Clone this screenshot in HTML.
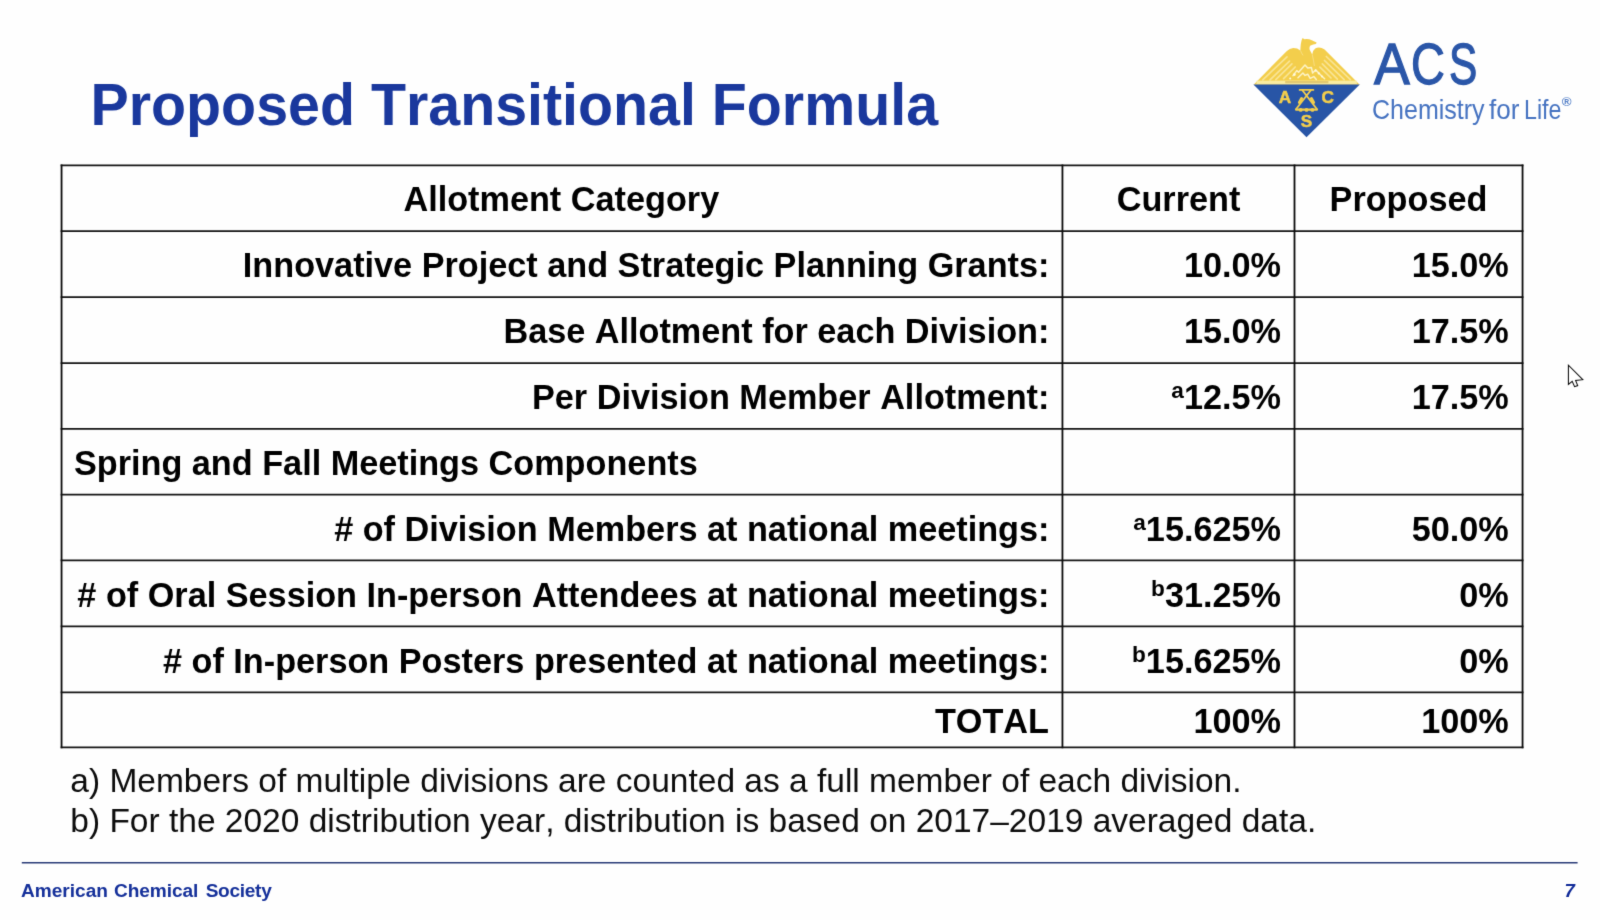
<!DOCTYPE html>
<html lang="en">
<head>
<meta charset="utf-8">
<title>Proposed Transitional Formula</title>
<style>
html,body{margin:0;padding:0;}
body{width:1600px;height:920px;overflow:hidden;background:#fefefe;color:#000;font-kerning:none;font-family:"Liberation Sans",sans-serif;position:relative;}
#slide{position:absolute;left:0;top:0;width:1600px;height:920px;overflow:hidden;background:#fefefe;filter:url(#soft);}
table,thead,tbody,tr,footer{display:block;margin:0;padding:0;border:0;}
td,th{display:block;padding:0;}
.t{position:absolute;margin:0;padding:0;white-space:nowrap;font-weight:bold;transform-origin:0 84.65%;}
.grid{position:absolute;left:0;top:0;}
sup{font-size:22.6px;position:relative;top:-11.3px;line-height:0;vertical-align:baseline;}
.logo{position:absolute;left:1240px;top:30px;}
.wm{position:absolute;left:0;top:0;white-space:nowrap;}
.wm span{position:absolute;transform-origin:0 0;display:block;}
.cursor{position:absolute;left:1560px;top:358px;}
</style>
</head>
<body>
<svg width="0" height="0" style="position:absolute" aria-hidden="true"><defs><filter id="soft" x="0" y="0" width="100%" height="100%" color-interpolation-filters="sRGB"><feConvolveMatrix order="3" kernelMatrix="0.0113 0.0838 0.0113 0.0838 0.6193 0.0838 0.0113 0.0838 0.0113" edgeMode="duplicate" preserveAlpha="false"/></filter></defs></svg>
<div id="slide">
<header>
<h1 class="t" style="left:90.50px;top:77.05px;font-size:57.35px;line-height:57.35px;color:#1a389d;transform:scaleY(1.02);">Proposed Transitional Formula</h1>
<svg class="logo" width="130" height="120" viewBox="1240 30 130 120">
<path fill="#f3ce4c" d="M1253.6 84.7 L1286.6 51.2 Q1289.6 48.3 1293.2 48.1 Q1297.6 48.1 1300.3 50.4 L1300.5 47.6 Q1300.7 43.4 1301.6 40.2 L1302.6 37.9 L1304.4 39.2 Q1308.4 38.6 1311.8 40.2 L1316.5 42.6 Q1317 44 1313.2 44.6 L1310.1 45.7 Q1309.2 47.4 1309.6 49.6 L1312.2 54.4 Q1312.6 50.6 1315.2 48.6 Q1319.4 46.2 1324.6 49.4 L1359.7 84.7 Z"/>
<g stroke="#f9e494" stroke-width="1.7" fill="none" stroke-linecap="round">
<path d="M1287 56.8 L1262.8 79.8"/><path d="M1289.5 61.1 L1270 79.8"/><path d="M1291.9 63.9 L1275.8 79.6"/><path d="M1295.2 67 L1283.6 78.6"/>
<path d="M1326.3 56.5 L1350.4 79.6"/><path d="M1324.5 60.5 L1344.2 79.6"/><path d="M1322.3 63.8 L1337.4 79.2"/><path d="M1319.9 67.2 L1331 78"/>
</g>
<path d="M1300.4 50.4 Q1301.4 53 1303 55.4 M1312.2 54.4 Q1313.6 60 1314.4 66" stroke="#f8df86" stroke-width="0.9" fill="none"/>
<g stroke="#fdf3c6" stroke-width="1.5" fill="none" stroke-linejoin="round" stroke-linecap="round">
<path d="M1293 75.6 L1296.8 70.6 L1298.6 72.2 L1305 65 L1307.7 68.1 L1311.4 67.5 L1312.6 73 L1315.6 69.9 L1318.7 73 L1321.7 76 L1324.6 78.8"/>
<path d="M1298 77.8 L1302.9 73 L1305 75.4 L1307.7 74.2 L1310.2 78.4 L1313.8 76.6 L1316.3 79.4"/>
</g>
<g fill="#fffae0"><circle cx="1294.4" cy="74.6" r="1.3"/><circle cx="1315.6" cy="70.6" r="1.1"/><circle cx="1318.8" cy="73.4" r="1.1"/><circle cx="1322" cy="76.4" r="1"/><circle cx="1290.2" cy="78.4" r="1"/></g>
<rect x="1256.5" y="80.6" width="100.4" height="3.6" fill="#fbefa8" opacity="0.9"/>
<rect x="1285.2" y="81" width="43.2" height="2.2" fill="#dcc267" opacity="0.85"/>
<path d="M1253.4 84.5 L1359.8 84.5 L1306.5 137.3 Z" fill="#2855a6"/>
<g fill="#f3ce4c" font-family="'Liberation Sans',sans-serif" font-weight="bold" font-size="17.2px" text-anchor="middle" stroke="#f3ce4c" stroke-width="0.5">
<text x="1284.9" y="103.1">A</text>
<text x="1327.7" y="103.1">C</text>
<text x="1306.5" y="126.5">S</text>
</g>
<g stroke="#f3ce4c" fill="none" stroke-linecap="round" stroke-linejoin="round">
<path d="M1299.6 89.9 L1313.4 89.9" stroke-width="1.7"/>
<path d="M1302.4 90.2 L1317 109.2 M1310.8 90.2 L1296 109.2" stroke-width="1.8"/>
<path d="M1296 109.6 L1317 109.6" stroke-width="2.2"/>
<path d="M1301.6 98.6 L1299.4 102.4 M1311.4 98.6 L1313.6 102.4" stroke-width="3"/>
</g>
<g fill="#f3ce4c"><circle cx="1300.7" cy="109.9" r="1.9"/><circle cx="1306.5" cy="109.9" r="1.9"/><circle cx="1312.4" cy="109.9" r="1.9"/></g>
</svg>
<div class="wm" style="color:#2a56a8;-webkit-text-stroke:1.3px #2a56a8;"><span style="left:1373.75px;top:34.90px;font-size:58.0px;line-height:58.0px;transform:scaleX(0.9243);">A</span><span style="left:1411.14px;top:34.90px;font-size:58.0px;line-height:58.0px;transform:scaleX(0.8085);">C</span><span style="left:1448.65px;top:34.90px;font-size:58.0px;line-height:58.0px;transform:scaleX(0.7293);">S</span></div>
<div class="wm" style="color:#4673c1;"><span style="left:1371.63px;top:96.55px;font-size:26.4px;line-height:26.4px;transform:scale(0.9483,1.03);transform-origin:0 84.65%;">Chemistry</span> <span style="left:1488.73px;top:96.55px;font-size:26.4px;line-height:26.4px;transform:scale(0.9884,1.03);transform-origin:0 84.65%;">for</span> <span style="left:1524.00px;top:96.55px;font-size:26.4px;line-height:26.4px;transform:scale(0.8795,1.03);transform-origin:0 84.65%;">Life</span><span style="left:1561.70px;top:94.84px;font-size:13.3px;line-height:13.3px;transform:none;color:#5580c8;font-weight:bold;">®</span></div>
</header>
<main>
<svg class="grid" width="1600" height="920" viewBox="0 0 1600 920" aria-hidden="true">
<g stroke="#141414" stroke-width="1.8">
<line x1="60.65" y1="165.45" x2="1523.45" y2="165.45"/>
<line x1="60.65" y1="231.1" x2="1523.45" y2="231.1"/>
<line x1="60.65" y1="297.1" x2="1523.45" y2="297.1"/>
<line x1="60.65" y1="363.05" x2="1523.45" y2="363.05"/>
<line x1="60.65" y1="428.8" x2="1523.45" y2="428.8"/>
<line x1="60.65" y1="494.65" x2="1523.45" y2="494.65"/>
<line x1="60.65" y1="560.4" x2="1523.45" y2="560.4"/>
<line x1="60.65" y1="626.4" x2="1523.45" y2="626.4"/>
<line x1="60.65" y1="692.4" x2="1523.45" y2="692.4"/>
<line x1="60.65" y1="747.45" x2="1523.45" y2="747.45"/>
</g>
<g stroke="#0c0c0c" stroke-width="1.8">
<line x1="61.55" y1="164.55" x2="61.55" y2="748.35"/>
<line x1="1062.45" y1="164.55" x2="1062.45" y2="748.35"/>
<line x1="1294.5" y1="164.55" x2="1294.5" y2="748.35"/>
<line x1="1522.55" y1="164.55" x2="1522.55" y2="748.35"/>
</g>
<line x1="21.8" y1="862.8" x2="1577.6" y2="862.8" stroke="#283a76" stroke-width="1.55"/>
</svg>
<table>
<thead>
<tr>
<th class="t" style="left:61.30px;width:1000px;text-align:center;top:182.02px;font-size:34.24px;line-height:34.24px;">Allotment Category</th>
<th class="t" style="left:678.50px;width:1000px;text-align:center;top:182.02px;font-size:34.24px;line-height:34.24px;">Current</th>
<th class="t" style="left:908.50px;width:1000px;text-align:center;top:182.02px;font-size:34.24px;line-height:34.24px;">Proposed</th>
</tr>
</thead>
<tbody>
<tr>
<th class="t" style="right:550.60px;top:248.05px;font-size:34.24px;line-height:34.24px;">Innovative Project and Strategic Planning Grants:</th>
<td class="t" style="right:319.00px;top:248.05px;font-size:34.24px;line-height:34.24px;">10.0%</td>
<td class="t" style="right:91.30px;top:248.05px;font-size:34.24px;line-height:34.24px;">15.0%</td>
</tr>
<tr>
<th class="t" style="right:550.60px;top:314.08px;font-size:34.24px;line-height:34.24px;">Base Allotment for each Division:</th>
<td class="t" style="right:319.00px;top:314.08px;font-size:34.24px;line-height:34.24px;">15.0%</td>
<td class="t" style="right:91.30px;top:314.08px;font-size:34.24px;line-height:34.24px;">17.5%</td>
</tr>
<tr>
<th class="t" style="right:550.60px;top:380.11px;font-size:34.24px;line-height:34.24px;">Per Division Member Allotment:</th>
<td class="t" style="right:319.00px;top:380.11px;font-size:34.24px;line-height:34.24px;"><sup>a</sup>12.5%</td>
<td class="t" style="right:91.30px;top:380.11px;font-size:34.24px;line-height:34.24px;">17.5%</td>
</tr>
<tr>
<th class="t" style="left:73.90px;top:446.14px;font-size:34.24px;line-height:34.24px;">Spring and Fall Meetings Components</th>
<td></td><td></td>
</tr>
<tr>
<th class="t" style="right:550.60px;top:512.17px;font-size:34.24px;line-height:34.24px;"># of Division Members at national meetings:</th>
<td class="t" style="right:319.00px;top:512.17px;font-size:34.24px;line-height:34.24px;"><sup>a</sup>15.625%</td>
<td class="t" style="right:91.30px;top:512.17px;font-size:34.24px;line-height:34.24px;">50.0%</td>
</tr>
<tr>
<th class="t" style="right:550.60px;top:578.20px;font-size:34.24px;line-height:34.24px;"># of Oral Session In-person Attendees at national meetings:</th>
<td class="t" style="right:319.00px;top:578.20px;font-size:34.24px;line-height:34.24px;"><sup>b</sup>31.25%</td>
<td class="t" style="right:91.30px;top:578.20px;font-size:34.24px;line-height:34.24px;">0%</td>
</tr>
<tr>
<th class="t" style="right:550.60px;top:644.23px;font-size:34.24px;line-height:34.24px;"># of In-person Posters presented at national meetings:</th>
<td class="t" style="right:319.00px;top:644.23px;font-size:34.24px;line-height:34.24px;"><sup>b</sup>15.625%</td>
<td class="t" style="right:91.30px;top:644.23px;font-size:34.24px;line-height:34.24px;">0%</td>
</tr>
<tr>
<th class="t" style="right:551.00px;top:703.72px;font-size:34.24px;line-height:34.24px;">TOTAL</th>
<td class="t" style="right:319.00px;top:703.72px;font-size:34.24px;line-height:34.24px;">100%</td>
<td class="t" style="right:91.30px;top:703.72px;font-size:34.24px;line-height:34.24px;">100%</td>
</tr>
</tbody>
</table>
<p class="t" style="left:70.30px;top:763.54px;font-size:33.5px;line-height:33.5px;font-weight:normal;color:#0c0c0c;">a) Members of multiple divisions are counted as a full member of each division.</p>
<p class="t" style="left:70.30px;top:803.74px;font-size:33.5px;line-height:33.5px;font-weight:normal;color:#0c0c0c;">b) For the 2020 distribution year, distribution is based on 2017–2019 averaged data.</p>
</main>
<footer>
<div class="t" style="left:20.90px;top:880.73px;font-size:19.1px;line-height:19.1px;color:#15309a;">American <span style="letter-spacing:-0.11px;margin-left:0.9px">Chemical</span> <span style="letter-spacing:-0.3px;margin-left:2.2px">Society</span></div>
<div class="t" style="right:25.10px;top:881.86px;font-size:18.6px;line-height:18.6px;color:#102a98;font-style:italic;">7</div>
</footer>
<svg class="cursor" width="32" height="36" viewBox="1560 358 32 36" aria-hidden="true">
<path d="M1568.4 365.2 L1568.4 384.4 L1572.2 381.3 L1574.6 386.7 L1577.7 385.6 L1575.6 380.5 L1582.8 379.7 Z" fill="#fff" stroke="#0a0a0a" stroke-width="1.05" stroke-linejoin="miter"/>
</svg>
</div>
</body>
</html>
